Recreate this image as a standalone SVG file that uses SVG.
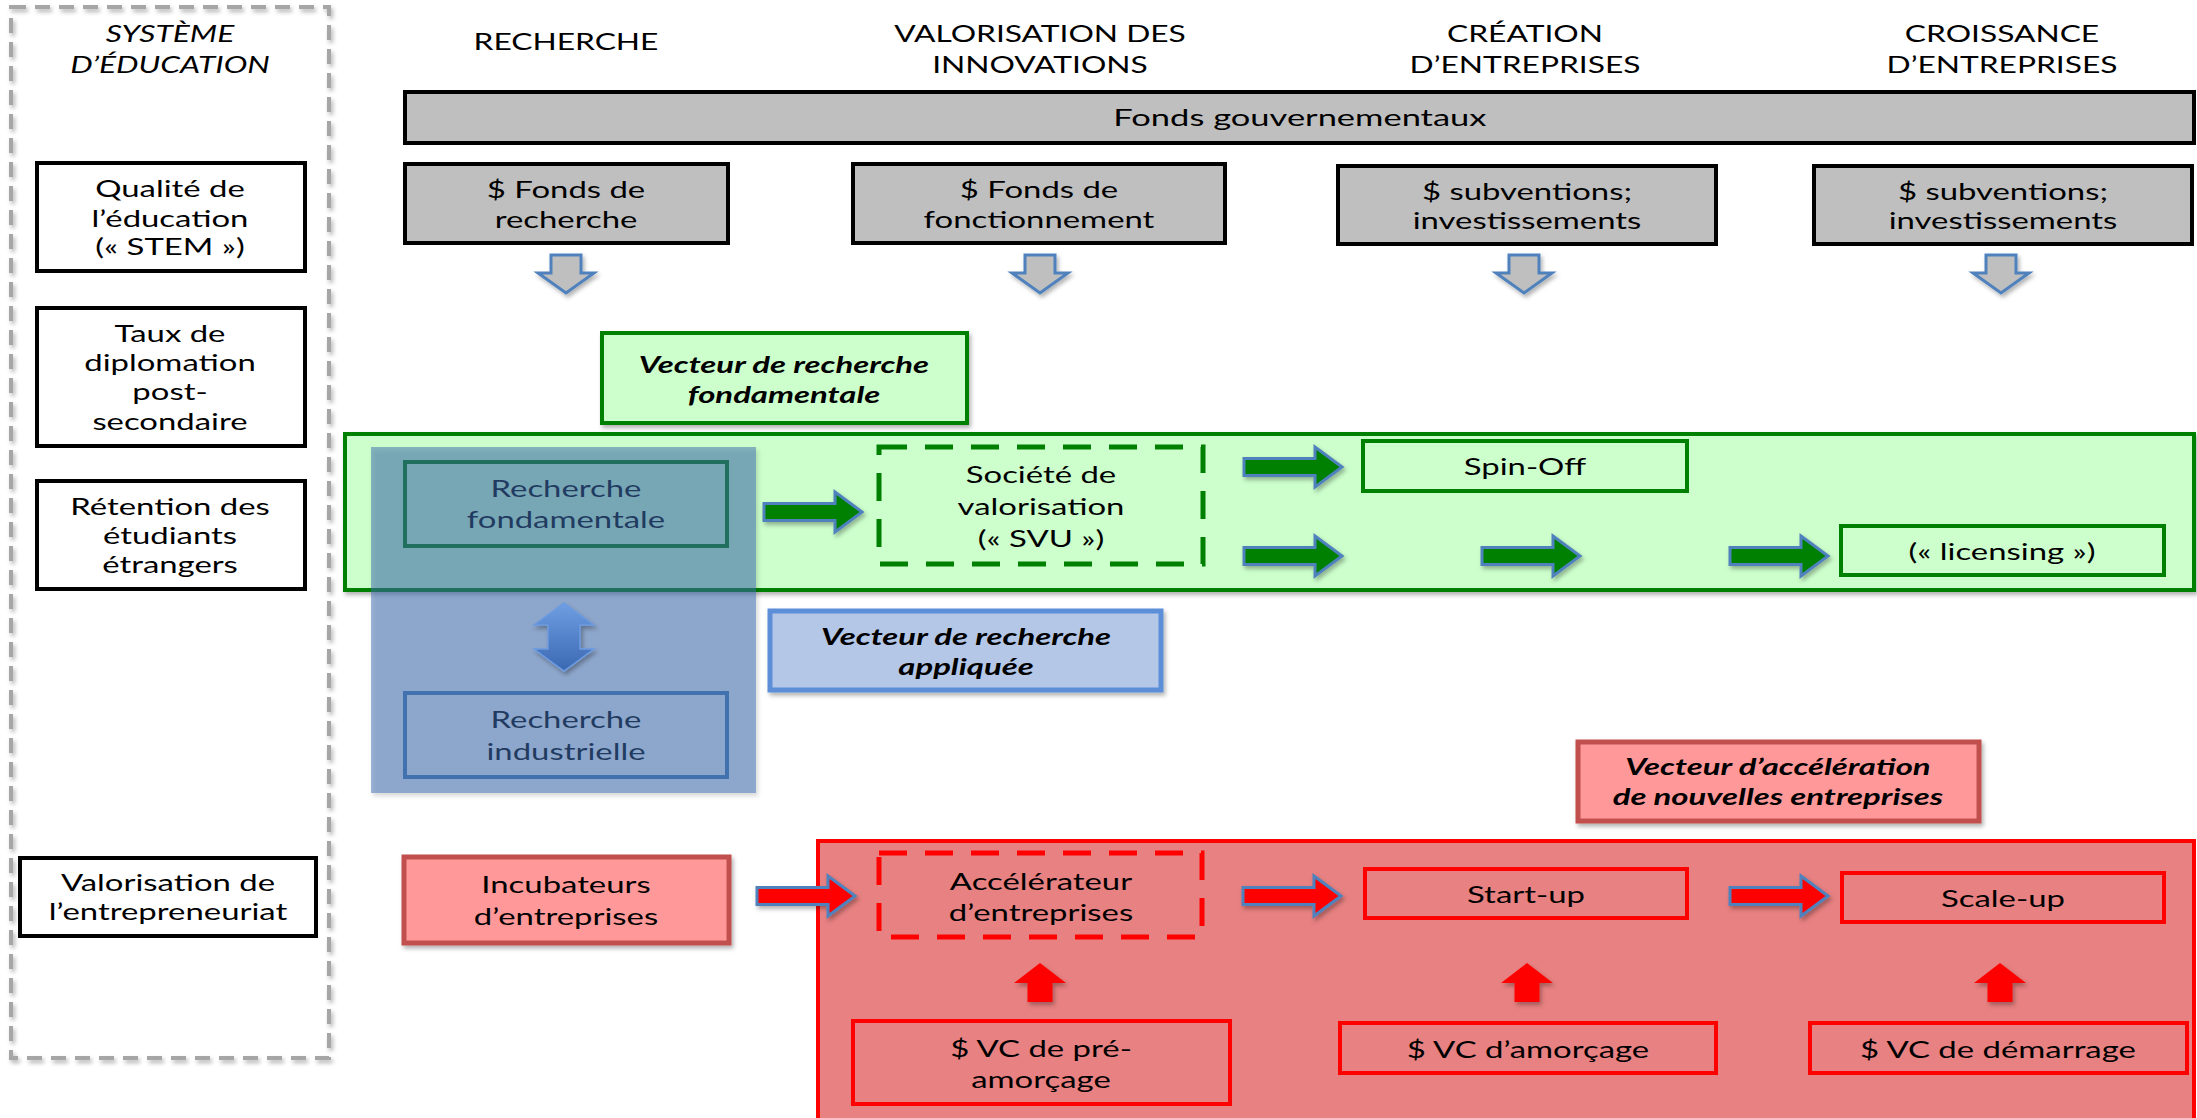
<svg xmlns="http://www.w3.org/2000/svg" xmlns:xlink="http://www.w3.org/1999/xlink" width="2197" height="1118" viewBox="0 0 2197 1118">
<style>
text{font-family:Lato,"Open Sans","Liberation Sans",sans-serif;font-size:23px;text-anchor:middle;fill:#000;transform-box:fill-box;transform-origin:center;transform:scaleX(1.43)}
.hd{transform:scaleX(1.38)}
.it{font-style:italic}
.bi{font-style:italic;font-weight:700}
.bk{fill:#fff;stroke:#000;stroke-width:4}
.gy{fill:#bfbfbf;stroke:#000;stroke-width:4}
.gr{fill:#ccffcc;stroke:#008000;stroke-width:4}
.go{fill:none;stroke:#008000;stroke-width:4}
.ro{fill:none;stroke:#ff0000;stroke-width:4}
.pk{fill:#ff9999;stroke:#c0504d;stroke-width:5}
.gda{fill:#bfbfbf;stroke:#4f81bd;stroke-width:3}
.ga{fill:#008000;stroke:#4f81bd;stroke-width:3}
.ra{fill:#ff0000;stroke:#4f81bd;stroke-width:3}
.ru{fill:#ff0000}
.sh{filter:url(#sh)}
</style>
<defs>
<filter id="sh" x="-20%" y="-20%" width="150%" height="160%">
<feDropShadow dx="2" dy="3" stdDeviation="2" flood-color="#000" flood-opacity="0.3"/>
</filter>
<linearGradient id="bg" x1="0" y1="0" x2="0" y2="1">
<stop offset="0" stop-color="#6f9ee2"/>
<stop offset="1" stop-color="#3a68b2"/>
</linearGradient>
<path id="arr" d="M0,0 L-27,-20 V-8.5 H-98 V8.5 H-27 V20 Z"/>
<path id="dn" d="M-15,0 H15 V18 H28 L0,38 L-28,18 H-15 Z"/>
<path id="up" d="M0,0 L26,20 H12.5 V39 H-12.5 V20 H-26 Z"/>
</defs>
<rect width="2197" height="1118" fill="#fff"/>

<g id="systeme-education">
<rect x="11" y="7" width="318" height="1051" fill="none" stroke="#a6a6a6" stroke-width="4" stroke-dasharray="15 9" class="sh"/>
<text class="it hd"><tspan x="170" y="42">SYSTÈME</tspan><tspan x="170" y="73">D’ÉDUCATION</tspan></text>
</g>

<g id="headers">
<text class="hd" x="566" y="50">RECHERCHE</text>
<text class="hd"><tspan x="1040" y="42">VALORISATION DES</tspan><tspan x="1040" y="73">INNOVATIONS</tspan></text>
<text class="hd"><tspan x="1525" y="42">CRÉATION</tspan><tspan x="1525" y="73">D’ENTREPRISES</tspan></text>
<text class="hd"><tspan x="2002" y="42">CROISSANCE</tspan><tspan x="2002" y="73">D’ENTREPRISES</tspan></text>
</g>

<g id="fonds-gouvernementaux">
<rect x="405" y="92" width="1789" height="51" class="gy"/>
<text x="1300" y="126" style="transform:scaleX(1.5)">Fonds gouvernementaux</text>
</g>

<g id="fonds-recherche">
<rect x="405" y="164" width="323" height="79" class="gy"/>
<text><tspan x="566" y="198">$ Fonds de</tspan><tspan x="566" y="228">recherche</tspan></text>
</g>
<g id="fonds-fonctionnement">
<rect x="853" y="164" width="372" height="79" class="gy"/>
<text><tspan x="1039" y="198">$ Fonds de</tspan><tspan x="1039" y="228">fonctionnement</tspan></text>
</g>
<g id="subventions-creation">
<rect x="1338" y="166" width="378" height="78" class="gy"/>
<text><tspan x="1527" y="200">$ subventions;</tspan><tspan x="1527" y="229">investissements</tspan></text>
</g>
<g id="subventions-croissance">
<rect x="1814" y="166" width="378" height="78" class="gy"/>
<text><tspan x="2003" y="200">$ subventions;</tspan><tspan x="2003" y="229">investissements</tspan></text>
</g>

<g id="qualite-education">
<rect x="37" y="163" width="268" height="108" class="bk"/>
<text><tspan x="170" y="197">Qualité de</tspan><tspan x="170" y="227">l’éducation</tspan><tspan x="170" y="255">(« STEM »)</tspan></text>
</g>
<g id="taux-diplomation">
<rect x="37" y="308" width="268" height="138" class="bk"/>
<text><tspan x="170" y="342">Taux de</tspan><tspan x="170" y="371">diplomation</tspan><tspan x="170" y="400">post-</tspan><tspan x="170" y="430">secondaire</tspan></text>
</g>
<g id="retention-etudiants">
<rect x="37" y="481" width="268" height="108" class="bk"/>
<text><tspan x="170" y="515">Rétention des</tspan><tspan x="170" y="544">étudiants</tspan><tspan x="170" y="573">étrangers</tspan></text>
</g>
<g id="valorisation-entrepreneuriat">
<rect x="20" y="858" width="296" height="78" class="bk"/>
<text><tspan x="168" y="891">Valorisation de</tspan><tspan x="168" y="920">l’entrepreneuriat</tspan></text>
</g>

<g id="vecteur-fondamentale">
<rect x="602" y="333" width="365" height="90" class="gr sh"/>
<text class="bi"><tspan x="784" y="373">Vecteur de recherche</tspan><tspan x="784" y="403">fondamentale</tspan></text>
</g>

<g id="zone-recherche-fondamentale">
<rect x="345" y="434" width="1849" height="156" class="gr sh"/>
</g>

<g id="recherche-fondamentale">
<rect x="405" y="462" width="322" height="84" class="go"/>
<text><tspan x="566" y="497">Recherche</tspan><tspan x="566" y="528">fondamentale</tspan></text>
</g>
<g id="recherche-industrielle">
<rect x="405" y="693" width="322" height="84" fill="none" stroke="#4f81bd" stroke-width="4"/>
<text><tspan x="566" y="728">Recherche</tspan><tspan x="566" y="760">industrielle</tspan></text>
</g>
<g id="zone-recherche-appliquee">
<rect x="371" y="447" width="385" height="346" fill="#3d6bb0" fill-opacity="0.5" class="sh"/>
</g>

<g id="svu">
<rect x="879" y="447" width="324" height="117" fill="none" stroke="#008000" stroke-width="5" stroke-dasharray="28 18"/>
<text><tspan x="1041" y="483">Société de</tspan><tspan x="1041" y="515">valorisation</tspan><tspan x="1041" y="547">(« SVU »)</tspan></text>
</g>
<g id="spin-off">
<rect x="1363" y="441" width="324" height="50" class="go"/>
<text x="1525" y="475">Spin-Off</text>
</g>
<g id="licensing">
<rect x="1841" y="526" width="323" height="49" class="go"/>
<text x="2002" y="560">(« licensing »)</text>
</g>

<g id="vecteur-appliquee">
<rect x="770" y="611" width="391" height="79" fill="#b4c7e7" stroke="#5b8fd8" stroke-width="5" class="sh"/>
<text class="bi"><tspan x="966" y="645">Vecteur de recherche</tspan><tspan x="966" y="675">appliquée</tspan></text>
</g>

<g id="vecteur-acceleration">
<rect x="1578" y="742" width="401" height="79" class="pk sh"/>
<text class="bi"><tspan x="1778" y="775">Vecteur d’accélération</tspan><tspan x="1778" y="805">de nouvelles entreprises</tspan></text>
</g>

<g id="zone-acceleration">
<rect x="818" y="841" width="1376" height="300" fill="#e88181" stroke="#ff0000" stroke-width="4"/>
</g>

<g id="incubateurs">
<rect x="404" y="857" width="325" height="86" class="pk sh"/>
<text><tspan x="566" y="893">Incubateurs</tspan><tspan x="566" y="925">d’entreprises</tspan></text>
</g>
<g id="accelerateur">
<rect x="879" y="853" width="323" height="84" fill="none" stroke="#ff0000" stroke-width="5" stroke-dasharray="28 18"/>
<text><tspan x="1041" y="890">Accélérateur</tspan><tspan x="1041" y="921">d’entreprises</tspan></text>
</g>
<g id="start-up">
<rect x="1365" y="869" width="322" height="49" class="ro"/>
<text x="1526" y="903">Start-up</text>
</g>
<g id="scale-up">
<rect x="1842" y="873" width="322" height="49" class="ro"/>
<text x="2003" y="907">Scale-up</text>
</g>
<g id="vc-pre-amorcage">
<rect x="853" y="1021" width="377" height="83" class="ro"/>
<text><tspan x="1041" y="1057">$ VC de pré-</tspan><tspan x="1041" y="1088">amorçage</tspan></text>
</g>
<g id="vc-amorcage">
<rect x="1340" y="1023" width="376" height="50" class="ro"/>
<text x="1528" y="1058">$ VC d’amorçage</text>
</g>
<g id="vc-demarrage">
<rect x="1810" y="1023" width="377" height="50" class="ro"/>
<text x="1998" y="1058">$ VC de démarrage</text>
</g>

<g id="connectors">
<use xlink:href="#dn" x="566" y="255" class="gda sh"/>
<use xlink:href="#dn" x="1040" y="255" class="gda sh"/>
<use xlink:href="#dn" x="1524" y="255" class="gda sh"/>
<use xlink:href="#dn" x="2001" y="255" class="gda sh"/>
<path d="M564,603 L594,625 L580,625 L580,649 L594,649 L564,671 L534,649 L548,649 L548,625 L534,625 Z" fill="url(#bg)" stroke="#6c9be0" stroke-width="1.5" class="sh"/>
<use xlink:href="#arr" x="862" y="512" class="ga sh"/>
<use xlink:href="#arr" x="1342" y="467" class="ga sh"/>
<use xlink:href="#arr" x="1342" y="556" class="ga sh"/>
<use xlink:href="#arr" x="1580" y="556" class="ga sh"/>
<use xlink:href="#arr" x="1828" y="556" class="ga sh"/>
<use xlink:href="#arr" x="855" y="896" class="ra sh"/>
<use xlink:href="#arr" x="1341" y="896" class="ra sh"/>
<use xlink:href="#arr" x="1828" y="896" class="ra sh"/>
<use xlink:href="#up" x="1040" y="963" class="ru sh"/>
<use xlink:href="#up" x="1527" y="963" class="ru sh"/>
<use xlink:href="#up" x="2000" y="963" class="ru sh"/>
</g>
</svg>
